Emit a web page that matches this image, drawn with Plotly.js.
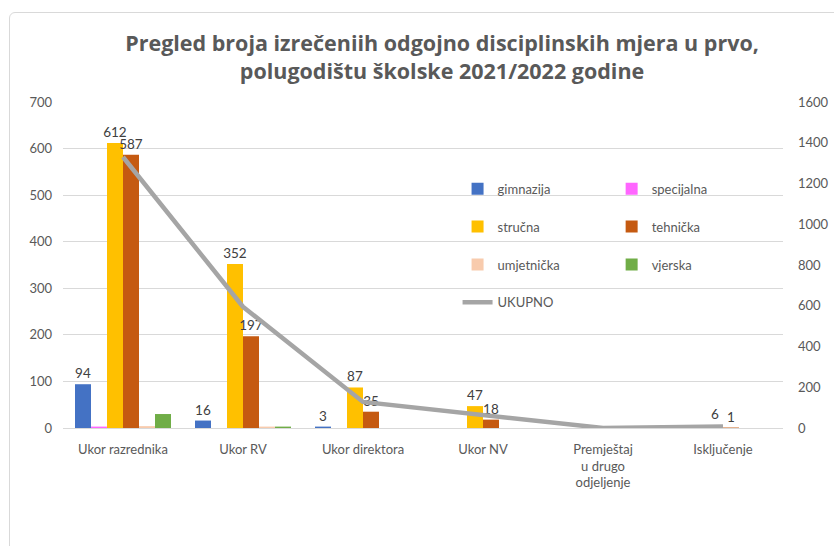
<!DOCTYPE html>
<html>
<head>
<meta charset="utf-8">
<script src="https://cdn.plot.ly/plotly-3.0.1.min.js"></script>
<style>
  html, body { margin: 0; padding: 0; background: #fff; }
  #wrap { position: relative; width: 834px; height: 546px; overflow: hidden; }
  #chart { width: 834px; height: 546px; }
  #frame { position: absolute; left: 9px; top: 12px; width: 840px; height: 560px;
           border: 1px solid #d9d9d9; border-radius: 6px; pointer-events: none; }
</style>
</head>
<body>
<div id="wrap">
  <div id="chart"></div>
  <div id="frame"></div>
</div>
<script>
const categories = ["Ukor razrednika", "Ukor RV", "Ukor direktora", "Ukor NV", "Premještaj<br>u drugo<br>odjeljenje", "Isključenje"];
const gimnazija  = [94, 16, 3, 0, 0, 0];
const specijalna = [3, 0, 0, 0, 0, 0];
const strucna    = [612, 352, 87, 47, 0, 6];
const tehnicka   = [587, 197, 35, 18, 0, 1];
const umjetnicka = [4, 3, 0, 0, 0, 0];
const vjerska    = [30, 3, 0, 0, 0, 0];
const ukupno     = [1330, 595, 128, 65, 0, 7];
const leftTicks  = [0, 100, 200, 300, 400, 500, 600, 700];
const rightTicks = [0, 200, 400, 600, 800, 1000, 1200, 1400, 1600];

const labelFont = { family: "Lato, 'Open Sans', sans-serif", size: 13.5, color: "#404040" };
const lbl = arr => arr.map(v => v > 0 ? String(v) : "");

function barTrace(name, y, color, showLabels, legend, group) {
  return {
    type: "bar", name: name, x: categories, y: y,
    marker: { color: color },
    text: showLabels ? lbl(y) : undefined,
    textposition: showLabels ? "outside" : "none",
    textfont: labelFont,
    constraintext: "none",
    cliponaxis: false,
    legend: legend, legendgroup: group,
    hoverinfo: "x+y+name"
  };
}

const traces = [
  barTrace("gimnazija", gimnazija, "#4472C4", true, "legend", "a"),
  barTrace("specijalna", specijalna, "#FF66FF", false, "legend2", "b"),
  barTrace("stručna", strucna, "#FFC000", true, "legend", "c"),
  barTrace("tehnička", tehnicka, "#C55A11", true, "legend2", "d"),
  barTrace("umjetnička", umjetnicka, "#F8CBAD", false, "legend", "e"),
  barTrace("vjerska", vjerska, "#70AD47", false, "legend2", "f"),
  {
    type: "scatter", mode: "lines", name: "UKUPNO", x: categories, y: ukupno,
    yaxis: "y2", line: { color: "#A5A5A5", width: 4.5 },
    legend: "legend", legendgroup: "g", cliponaxis: false
  }
];

const tickFont = { family: "Lato, 'Open Sans', sans-serif", size: 13, color: "#595959" };
const legendCommon = {
  font: { family: "Lato, 'Open Sans', sans-serif", size: 13, color: "#595959" },
  bgcolor: "rgba(0,0,0,0)", traceorder: "grouped", tracegroupgap: 18,
  yanchor: "top", xanchor: "left", yref: "paper", xref: "paper"
};

const layout = {
  width: 834, height: 546,
  margin: { l: 63, r: 51, t: 102, b: 118 },
  paper_bgcolor: "#ffffff", plot_bgcolor: "#ffffff",
  title: {
    text: "<b>Pregled broja izrečeniih odgojno disciplinskih mjera u prvo,<br>polugodištu školske 2021/2022 godine</b>",
    font: { family: "'Open Sans', Lato, sans-serif", size: 21.5, color: "#595959" },
    x: 0.53, xanchor: "center", xref: "container",
    y: 0.906, yanchor: "top", yref: "container"
  },
  barmode: "group", bargap: 0.2, bargroupgap: 0,
  xaxis: {
    type: "category", tickfont: tickFont, showgrid: false,
    showline: true, linecolor: "#d9d9d9", linewidth: 1,
    ticks: "", ticklabelstandoff: 9, automargin: false
  },
  yaxis: {
    range: [0, 700], tickvals: leftTicks, tickfont: tickFont,
    showgrid: true, gridcolor: "#d9d9d9", gridwidth: 1,
    zeroline: false, showline: false, ticks: "", ticklabelstandoff: 10,
    automargin: false
  },
  yaxis2: {
    range: [0, 1600], tickvals: rightTicks, tickfont: tickFont,
    overlaying: "y", side: "right", showgrid: false, zeroline: false,
    showline: false, ticks: "", ticklabelstandoff: 14, automargin: false
  },
  legend: Object.assign({}, legendCommon, { x: 0.548, y: 0.78 }),
  legend2: Object.assign({}, legendCommon, { x: 0.762, y: 0.78 }),
  showlegend: true
};

Plotly.newPlot("chart", traces, layout, { displayModeBar: false, staticPlot: true });
</script>
</body>
</html>
